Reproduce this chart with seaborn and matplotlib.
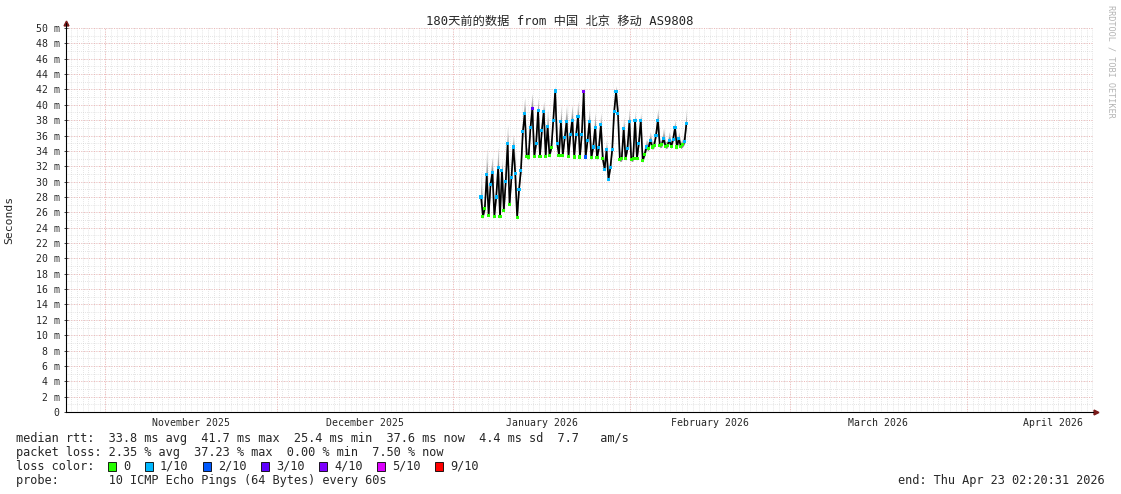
import seaborn as sns
import matplotlib.pyplot as plt
import matplotlib.patches as mpatches
import pandas as pd

# median rtt in ms, one sample every 8 hours starting 2026-01-05 20:00
rtt_median = [
    28.0, 25.5, 26.5, 30.9, 25.6, 29.6, 31.2, 25.5, 28.0, 31.8,
    25.4, 31.5, 26.2, 30.0, 35.0, 27.0, 30.5, 34.5, 31.0, 25.3,
    29.0, 31.5, 36.5, 38.9, 33.3, 33.2, 37.0, 39.5, 33.3, 35.0,
    39.3, 33.3, 36.7, 39.1, 33.3, 37.2, 33.4, 34.4, 38.0, 41.8,
    35.0, 33.4, 37.8, 33.4, 35.7, 37.8, 33.3, 36.1, 38.0, 33.2,
    36.1, 38.5, 33.2, 36.1, 41.7, 33.2, 35.3, 37.8, 33.1, 34.5,
    37.1, 33.1, 34.4, 37.4, 33.0, 31.6, 34.2, 30.3, 31.8, 34.2,
    39.1, 41.7, 38.9, 32.9, 33.0, 36.9, 33.0, 34.3, 37.8, 32.9,
    33.0, 38.0, 33.0, 35.0, 38.0, 32.8, 33.5, 34.5, 34.3, 35.4,
    34.5, 34.7, 36.0, 38.0, 34.7, 34.8, 35.6, 34.6, 34.7, 35.4,
    34.6, 35.5, 37.0, 34.5, 35.6, 34.6, 34.8, 35.2, 37.6,
]

# top of the smoke (slowest ping) in ms
rtt_max = [
    31.5, 26.3, 28.0, 34.4, 26.5, 31.5, 33.2, 26.2, 30.5, 34.5,
    26.2, 33.0, 27.5, 32.5, 37.5, 28.5, 32.5, 36.2, 33.0, 26.0,
    30.5, 33.5, 38.5, 41.0, 34.5, 34.0, 39.5, 41.5, 34.2, 37.0,
    41.0, 34.0, 38.5, 40.5, 34.2, 39.5, 34.3, 35.5, 40.0, 42.5,
    37.0, 34.3, 40.0, 34.2, 37.5, 40.0, 34.2, 38.0, 40.0, 34.0,
    38.0, 40.5, 34.0, 38.0, 42.3, 34.0, 37.0, 39.5, 34.0, 36.0,
    39.0, 34.0, 36.0, 39.0, 34.0, 32.5, 35.5, 31.0, 33.0, 35.5,
    40.5, 42.5, 40.0, 33.8, 34.0, 38.5, 34.0, 36.0, 39.5, 33.8,
    34.0, 39.2, 33.8, 36.5, 39.0, 33.6, 34.5, 35.5, 35.0, 36.5,
    35.2, 35.3, 37.5, 39.5, 35.3, 35.5, 37.0, 35.2, 35.3, 36.5,
    35.2, 36.5, 38.0, 35.2, 36.5, 35.2, 35.5, 36.5, 39.5,
]

# packet loss per sample, in tenths (index into loss_labels)
loss = [
    1, 0, 0, 1, 0, 1, 1, 0, 1, 1,
    0, 1, 0, 1, 1, 0, 1, 1, 1, 0,
    1, 1, 1, 1, 0, 0, 1, 3, 0, 1,
    1, 0, 1, 1, 0, 1, 0, 0, 1, 1,
    1, 0, 1, 0, 1, 1, 0, 1, 1, 0,
    1, 1, 0, 1, 4, 2, 1, 1, 0, 1,
    1, 0, 1, 1, 0, 1, 1, 1, 1, 1,
    1, 1, 1, 0, 0, 1, 0, 1, 1, 0,
    0, 1, 0, 1, 1, 0, 0, 1, 0, 1,
    0, 0, 1, 1, 0, 0, 1, 0, 0, 1,
    0, 1, 1, 0, 1, 0, 0, 1, 1,
]

loss_labels = ["0", "1/10", "2/10", "3/10", "4/10", "5/10", "9/10"]
loss_colors = ["#26ff00", "#00b8ff", "#0059ff", "#5e00ff", "#7e00ff", "#dd00ff", "#ff0000"]

months = ["November 2025", "December 2025", "January 2026", "February 2026", "March 2026", "April 2026"]
y_ticks = list(range(0, 51, 2))

start = pd.Timestamp("2025-10-25 02:20:31")
end = pd.Timestamp("2026-04-23 02:20:31")

df = pd.DataFrame({
    "time": pd.date_range("2026-01-05 20:00", periods=len(rtt_median), freq="8h"),
    "median": rtt_median,
    "max": rtt_max,
    "loss": [loss_labels[i] for i in loss],
})

sns.set_theme(style="white")
plt.rcParams["font.family"] = ["DejaVu Sans Mono", "Noto Sans CJK SC"]

W, H = 1121, 494
fig = plt.figure(figsize=(W / 100, H / 100), dpi=100)
ax = fig.add_axes([66 / W, 1 - 412 / H, (1093 - 66) / W, (412 - 28) / H])

# grid, drawn by hand like rrdtool: daily + monthly, 1 ms + 2 ms
dots = (0, (1, 2))
for d in pd.date_range("2025-10-26", "2026-04-23", freq="D"):
    ax.axvline(d, color="#cccccc", lw=0.5, ls=dots, zorder=0)
for y in range(1, 51):
    ax.axhline(y, color="#cccccc", lw=0.5, ls=dots, zorder=0)
for m in pd.date_range("2025-11-01", "2026-04-01", freq="MS"):
    ax.axvline(m, color="#f2a8a8", lw=0.6, ls=dots, zorder=1)
for y in y_ticks[1:]:
    ax.axhline(y, color="#f2a8a8", lw=0.6, ls=dots, zorder=1)

# smoke
ax.fill_between(df["time"], df["median"], df["max"], color="#c0c0c0", lw=0, zorder=2)
ax.fill_between(df["time"], df["median"] - 0.3, (df["median"] + df["max"]) / 2,
                color="#888888", lw=0, zorder=2)

sns.lineplot(data=df, x="time", y="median", color="black", lw=1.2, ax=ax, zorder=3)
sns.scatterplot(data=df, x="time", y="median", hue="loss", hue_order=loss_labels,
                palette=loss_colors, marker="s", s=5, linewidth=0, legend=False,
                ax=ax, zorder=4)

ax.set_xlim(start, end)
ax.set_ylim(0, 50)
ax.set_xlabel("")
ax.set_ylabel("Seconds", fontsize=8.2)
ax.yaxis.set_label_coords(-52 / (1093 - 66), 0.5)

mids = [m + (m + pd.offsets.MonthBegin(1) - m) / 2 for m in pd.date_range("2025-11-01", "2026-04-01", freq="MS")]
ax.set_xticks(mids, months, fontsize=7.1)
ax.set_yticks(y_ticks, [f"{v} m" if v else "0" for v in y_ticks], fontsize=7.1)
ax.tick_params(axis="x", length=0, pad=4)
ax.tick_params(axis="y", length=3, width=0.6, direction="inout", pad=3, left=True)

for s in ["top", "right"]:
    ax.spines[s].set_visible(False)
ax.spines["left"].set_linewidth(0.8)
ax.spines["bottom"].set_linewidth(0.8)
ax.spines["left"].set_color("black")
ax.spines["bottom"].set_color("black")
ax.plot([1.0, 1.003], [0, 0], color="black", lw=0.8, transform=ax.transAxes, clip_on=False)
ax.plot([1.003], [0], marker=">", color="#7a1a1a", ms=3.5, transform=ax.transAxes, clip_on=False)
ax.plot([0], [1.012], marker="^", color="#7a1a1a", ms=3.5, transform=ax.transAxes, clip_on=False)
ax.plot([0, 0], [1.0, 1.012], color="black", lw=0.8, transform=ax.transAxes, clip_on=False)

fig.text(560 / W, 1 - 21 / H, "180天前的数据 from 中国 北京 移动 AS9808",
         ha="center", va="center", fontsize=8.8)
fig.text(1111 / W, 1 - 5 / H, "RRDTOOL / TOBI OETIKER", rotation=270,
         ha="center", va="top", fontsize=6.1, color="#b4b4b4")

fs = 8.6
fig.text(16 / W, 1 - 438 / H,
         "median rtt:  33.8 ms avg  41.7 ms max  25.4 ms min  37.6 ms now  4.4 ms sd  7.7   am/s",
         va="center", fontsize=fs)
fig.text(16 / W, 1 - 452 / H, "packet loss: 2.35 % avg  37.23 % max  0.00 % min  7.50 % now",
         va="center", fontsize=fs)
fig.text(16 / W, 1 - 466 / H, "loss color:", va="center", fontsize=fs)
box_x = [108, 145, 203, 261, 319, 377, 435]
for bx, lab, col in zip(box_x, loss_labels, loss_colors):
    fig.patches.append(mpatches.Rectangle((bx / W, 1 - 471 / H), 8 / W, 9 / H,
                                          transform=fig.transFigure, facecolor=col,
                                          edgecolor="black", lw=0.6))
    fig.text((bx + 15) / W, 1 - 466 / H, lab, va="center", fontsize=fs)
fig.text(16 / W, 1 - 480 / H, "probe:       10 ICMP Echo Pings (64 Bytes) every 60s",
         va="center", fontsize=fs)
fig.text(1105 / W, 1 - 480 / H, "end: Thu Apr 23 02:20:31 2026", ha="right",
         va="center", fontsize=fs)

fig.savefig("out.png", dpi=100)
